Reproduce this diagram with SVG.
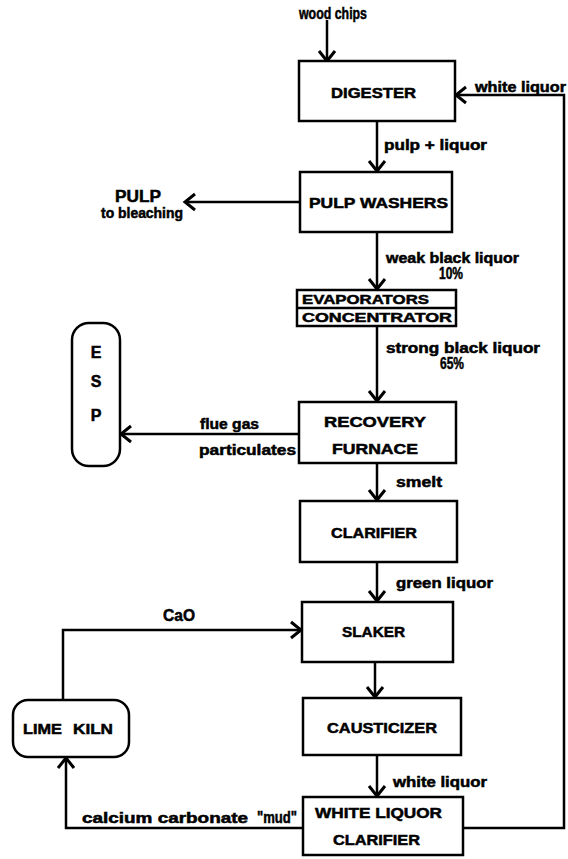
<svg xmlns="http://www.w3.org/2000/svg" width="568" height="859" viewBox="0 0 568 859">
<style>
.box{fill:#fff;stroke:#000;stroke-width:2.5}
.ln{fill:none;stroke:#000;stroke-width:2.5}
text{font-family:"Liberation Sans",Arial,sans-serif;font-weight:bold;fill:#000;stroke:#000;stroke-width:0.5}
.t{font-size:15px}
.l{font-size:14px}
.m{font-size:16px}
</style>
<defs>
<marker id="ah" markerUnits="userSpaceOnUse" markerWidth="16" markerHeight="20" refX="13" refY="10" orient="auto" viewBox="0 0 16 20">
<path d="M3,2 L13,10 L3,18" fill="none" stroke="#000" stroke-width="3"/>
</marker>
</defs>
<rect width="568" height="859" fill="#fff"/>
<g id="connectors">
<path class="ln" d="M327,20 V61" marker-end="url(#ah)"/>
<path class="ln" d="M463,828 H564 V95 H456" marker-end="url(#ah)"/>
<path class="ln" d="M377,121 V171" marker-end="url(#ah)"/>
<path class="ln" d="M300,202 H185" marker-end="url(#ah)"/>
<path class="ln" d="M377,232 V289" marker-end="url(#ah)"/>
<path class="ln" d="M377,326 V401" marker-end="url(#ah)"/>
<path class="ln" d="M299,434 H121" marker-end="url(#ah)"/>
<path class="ln" d="M377,463 V500" marker-end="url(#ah)"/>
<path class="ln" d="M377,562 V601" marker-end="url(#ah)"/>
<path class="ln" d="M63,700 V630 H301" marker-end="url(#ah)"/>
<path class="ln" d="M375,662 V697" marker-end="url(#ah)"/>
<path class="ln" d="M377,755 V796" marker-end="url(#ah)"/>
<path class="ln" d="M303,828 H66 V758" marker-end="url(#ah)"/>
<text class="m" x="299" y="19" textLength="68" lengthAdjust="spacingAndGlyphs">wood chips</text>
<text class="l" x="475" y="92" textLength="91" lengthAdjust="spacingAndGlyphs">white liquor</text>
<text class="l" x="384" y="150" textLength="103" lengthAdjust="spacingAndGlyphs">pulp + liquor</text>
<text class="m" x="115" y="202" textLength="46" lengthAdjust="spacingAndGlyphs">PULP</text>
<text class="l" x="101" y="218" textLength="82" lengthAdjust="spacingAndGlyphs">to bleaching</text>
<text class="l" x="386" y="263" textLength="133" lengthAdjust="spacingAndGlyphs">weak black liquor</text>
<text class="m" x="439" y="279" textLength="24" lengthAdjust="spacingAndGlyphs">10%</text>
<text class="l" x="386" y="353" textLength="154" lengthAdjust="spacingAndGlyphs">strong black liquor</text>
<text class="m" x="440" y="369" textLength="24" lengthAdjust="spacingAndGlyphs">65%</text>
<text class="l" x="200" y="429" textLength="59" lengthAdjust="spacingAndGlyphs">flue gas</text>
<text class="l" x="199" y="455" textLength="97" lengthAdjust="spacingAndGlyphs">particulates</text>
<text class="l" x="396" y="487" textLength="46" lengthAdjust="spacingAndGlyphs">smelt</text>
<text class="l" x="396" y="588" textLength="97" lengthAdjust="spacingAndGlyphs">green liquor</text>
<text class="m" x="163" y="621" textLength="32" lengthAdjust="spacingAndGlyphs">CaO</text>
<text class="l" x="393" y="787" textLength="94" lengthAdjust="spacingAndGlyphs">white liquor</text>
<text class="l" x="82" y="823" textLength="166" lengthAdjust="spacingAndGlyphs">calcium carbonate</text>
<text class="m" x="257" y="823" textLength="40" lengthAdjust="spacingAndGlyphs">"mud"</text>
</g>
<g id="digester">
<rect class="box" x="299" y="61" width="156" height="60"/>
<text class="t" x="331" y="98" textLength="85" lengthAdjust="spacingAndGlyphs">DIGESTER</text>
</g>
<g id="pulp-washers">
<rect class="box" x="300" y="172" width="152" height="60"/>
<text class="t" x="309" y="208" textLength="139" lengthAdjust="spacingAndGlyphs">PULP WASHERS</text>
</g>
<g id="evaporators">
<rect class="box" x="297" y="290" width="159" height="36"/>
<line class="ln" x1="297" y1="308" x2="456" y2="308"/>
<text class="t" x="302" y="304" style="font-size:13px" textLength="127" lengthAdjust="spacingAndGlyphs">EVAPORATORS</text>
<text class="t" x="302" y="322" style="font-size:13px" textLength="150" lengthAdjust="spacingAndGlyphs">CONCENTRATOR</text>
</g>
<g id="esp">
<rect class="box" x="72" y="323" width="48" height="143" rx="17" ry="17"/>
<text class="m" x="96" y="358" text-anchor="middle">E</text>
<text class="m" x="96" y="387" text-anchor="middle">S</text>
<text class="m" x="96" y="421" text-anchor="middle">P</text>
</g>
<g id="recovery-furnace">
<rect class="box" x="299" y="402" width="157" height="61"/>
<text class="t" x="324" y="427" textLength="102" lengthAdjust="spacingAndGlyphs">RECOVERY</text>
<text class="t" x="332" y="454" textLength="86" lengthAdjust="spacingAndGlyphs">FURNACE</text>
</g>
<g id="clarifier">
<rect class="box" x="300" y="501" width="157" height="61"/>
<text class="t" x="331" y="538" textLength="86" lengthAdjust="spacingAndGlyphs">CLARIFIER</text>
</g>
<g id="slaker">
<rect class="box" x="302" y="602" width="151" height="60"/>
<text class="t" x="342" y="637" textLength="63" lengthAdjust="spacingAndGlyphs">SLAKER</text>
</g>
<g id="causticizer">
<rect class="box" x="303" y="698" width="158" height="57"/>
<text class="t" x="327" y="733" textLength="110" lengthAdjust="spacingAndGlyphs">CAUSTICIZER</text>
</g>
<g id="lime-kiln">
<rect class="box" x="13" y="700" width="116" height="57" rx="15" ry="15"/>
<text class="t" x="23" y="734" textLength="39" lengthAdjust="spacingAndGlyphs">LIME</text>
<text class="t" x="73" y="734" textLength="40" lengthAdjust="spacingAndGlyphs">KILN</text>
</g>
<g id="white-liquor-clarifier">
<rect class="box" x="303" y="797" width="160" height="58"/>
<text class="t" x="315" y="818" textLength="127" lengthAdjust="spacingAndGlyphs">WHITE LIQUOR</text>
<text class="t" x="333" y="845" textLength="87" lengthAdjust="spacingAndGlyphs">CLARIFIER</text>
</g>
</svg>
